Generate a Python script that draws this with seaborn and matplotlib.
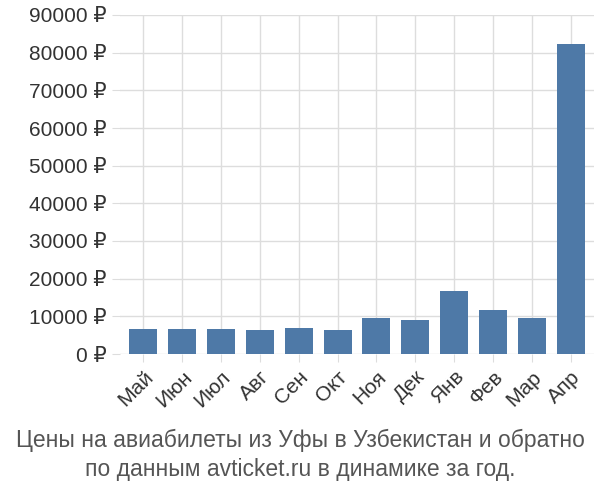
import matplotlib
matplotlib.use("Agg")
import matplotlib.pyplot as plt
import seaborn as sns
import pandas as pd

months = ["Май", "Июн", "Июл", "Авг", "Сен", "Окт", "Ноя", "Дек", "Янв", "Фев", "Мар", "Апр"]
prices = [6600, 6600, 6700, 6500, 6800, 6300, 9600, 9000, 16800, 11800, 9600, 82300]
yticks = list(range(0, 90001, 10000))

plt.rcParams["font.family"] = ["Liberation Sans", "DejaVu Sans"]
df = pd.DataFrame({"month": months, "price": prices})

fig = plt.figure(figsize=(6, 5), dpi=100)
ax = fig.add_axes([0.2, 0.292, 0.79, 0.678])
sns.barplot(data=df, x="month", y="price", color="#4e79a7", width=0.72, saturation=1, ax=ax)

ax.set_ylim(0, 90000)
ax.set_xlim(-0.6, len(months) - 0.4)
ax.set_yticks(yticks)
ax.set_yticklabels([f"{v} ₽" for v in yticks], fontsize=15, color="#333333")
ax.set_xticks(range(len(months)))
ax.set_xticklabels(months, rotation=45, ha="right", rotation_mode="anchor", fontsize=15, color="#333333")
ax.set_xlabel("")
ax.set_ylabel("")
ax.set_axisbelow(True)
ax.grid(True, color="#dddddd", linewidth=1)
for s in ax.spines.values():
    s.set_visible(False)
ax.tick_params(length=6, color="#dddddd")

fig.text(0.5, 0.09, "Цены на авиабилеты из Уфы в Узбекистан и обратно\nпо данным avticket.ru в динамике за год.",
         ha="center", va="center", fontsize=16.5, color="#555555", linespacing=1.3)

fig.savefig("out.png", dpi=100)
